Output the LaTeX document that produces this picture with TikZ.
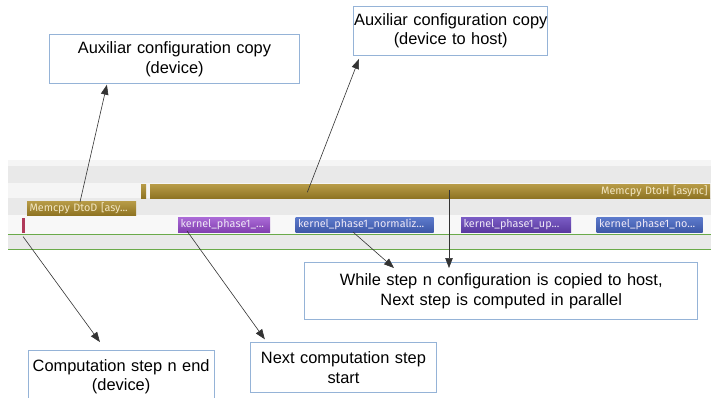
\documentclass[tikz,border=0pt]{standalone}
\usepackage{fontspec}
\setmainfont{Liberation Sans}
\newfontfamily\tlfont{Fira Sans}
\usetikzlibrary{arrows.meta,calc}
\definecolor{boxline}{HTML}{95B3D7}
\definecolor{rowA}{HTML}{E9E9E9}
\definecolor{rowB}{HTML}{F5F5F5}
\definecolor{rowC}{HTML}{F8F8F8}
\definecolor{tlgreen}{HTML}{6AAA4A}
\definecolor{goldT}{HTML}{B89C48}
\definecolor{goldB}{HTML}{8E7322}
\definecolor{purT}{HTML}{AA6AD6}
\definecolor{purB}{HTML}{8240B0}
\definecolor{vioT}{HTML}{7A5CC4}
\definecolor{vioB}{HTML}{5A3AA0}
\definecolor{bluT}{HTML}{5C7ACB}
\definecolor{bluB}{HTML}{3E58A8}
\definecolor{redbar}{HTML}{B03A5A}
\definecolor{goldtext}{HTML}{F2E6C2}
\definecolor{kertext}{HTML}{EEE8F6}
\begin{document}
\begin{tikzpicture}[x=1pt,y=-1pt,
  note/.style={draw=boxline,line width=0.9pt,fill=white,align=center,
    font=\fontsize{16.4}{19.3}\selectfont,text=black,inner sep=0pt,anchor=north west},
  tbar/.style={anchor=north west,inner ysep=0pt,inner xsep=2.5pt,outer sep=0pt,
    font=\tlfont\fontsize{10.8}{11}\selectfont,minimum height=14.5pt},
  goldbar/.style={tbar,top color=goldT,bottom color=goldB,text=goldtext},
  purbar/.style={tbar,top color=purT,bottom color=purB,text=kertext},
  viobar/.style={tbar,top color=vioT,bottom color=vioB,text=kertext},
  blubar/.style={tbar,top color=bluT,bottom color=bluB,text=kertext},
  arr/.style={draw=black!80,line width=0.6pt,-{Triangle[length=10pt,width=7.5pt]}}]
\useasboundingbox (0,0) rectangle (711,397);
\fill[white] (0,0) rectangle (711,397);

% timeline rows
\fill[rowB] (8,160) rectangle (711,166);
\fill[rowA] (8,166) rectangle (711,183);
\fill[rowB] (8,183) rectangle (711,198);
\fill[rowA] (8,198) rectangle (711,215);
\fill[rowC] (8,215) rectangle (711,234);
\fill[rowA] (8,235) rectangle (711,249.5);
\draw[tlgreen,line width=1.3pt] (8,234.7) -- (711,234.7);
\draw[tlgreen,line width=1.3pt] (8,249.7) -- (711,249.7);

% bars
\node[goldbar,minimum width=5pt,inner xsep=0pt] (dtohsmall) at (141,184) {};
\node[goldbar,minimum width=560pt,text width=555pt,align=right] (dtoh) at (150,184) {Memcpy DtoH [async]};
\node[goldbar,minimum width=109pt,text width=104pt,align=left] (dtod) at (27,201) {Memcpy DtoD [asy...};
\node[anchor=north west,fill=redbar,minimum width=3.3pt,minimum height=15pt,inner sep=0pt] (redk) at (21.7,217.3) {};
\node[purbar,minimum width=92pt,text width=87pt,align=left] (k1) at (178,217.5) {kernel\_phase1\_...};
\node[blubar,minimum width=138pt,text width=133pt,align=left] (k2) at (295.5,217.5) {kernel\_phase1\_normaliz...};
\node[viobar,minimum width=110pt,text width=105pt,align=left] (k3) at (461,217.5) {kernel\_phase1\_up...};
\node[blubar,minimum width=106pt,text width=101pt,align=left] (k4) at (596.7,217.5) {kernel\_phase1\_no...};

% note boxes
\node[note,minimum width=250pt,minimum height=49pt,text width=250pt] (boxA) at (49,34.3)
  {Auxiliar configuration copy\\(device)};
\node[note,minimum width=194pt,minimum height=49pt,text width=194pt] (boxB) at (353.3,6)
  {Auxiliar configuration copy\\(device to host)};
\node[note,minimum width=393pt,minimum height=57pt,text width=393pt] (boxC) at (304.3,262.3)
  {While step n configuration is copied to host,\\Next step is computed in parallel};
\node[note,minimum width=186pt,minimum height=52pt,text width=186pt] (boxD) at (27.7,350)
  {Computation step n end\\(device)};
\node[note,minimum width=186pt,minimum height=49.5pt,text width=186pt] (boxE) at (250,342.3)
  {Next computation step\\start};

% connector start points
\coordinate (sA) at (80,202);
\coordinate (sB) at (307.3,192.3);
\coordinate (sD) at (23,236.5);
\coordinate (sE) at (187,231);
\coordinate (sC1) at (353,232);
\coordinate (sC2) at (449,190);

\draw[arr,shorten >=0.5pt] (sA) -- ([xshift=58pt]boxA.south west);
\draw[arr] (sB) -- ([xshift=5.7pt,yshift=-3pt]boxB.south west);
\draw[arr,shorten >=9.8pt] (sD) -- ([xshift=78pt]boxD.north west);
\draw[arr,shorten >=3.7pt] (sE) -- ([xshift=17pt]boxE.north west);
\draw[arr] (sC1) -- ([xshift=89.7pt,yshift=-5.7pt]boxC.north west);
\draw[arr] (sC2) -- ([xshift=144.7pt,yshift=-5.7pt]boxC.north west);
\end{tikzpicture}
\end{document}
